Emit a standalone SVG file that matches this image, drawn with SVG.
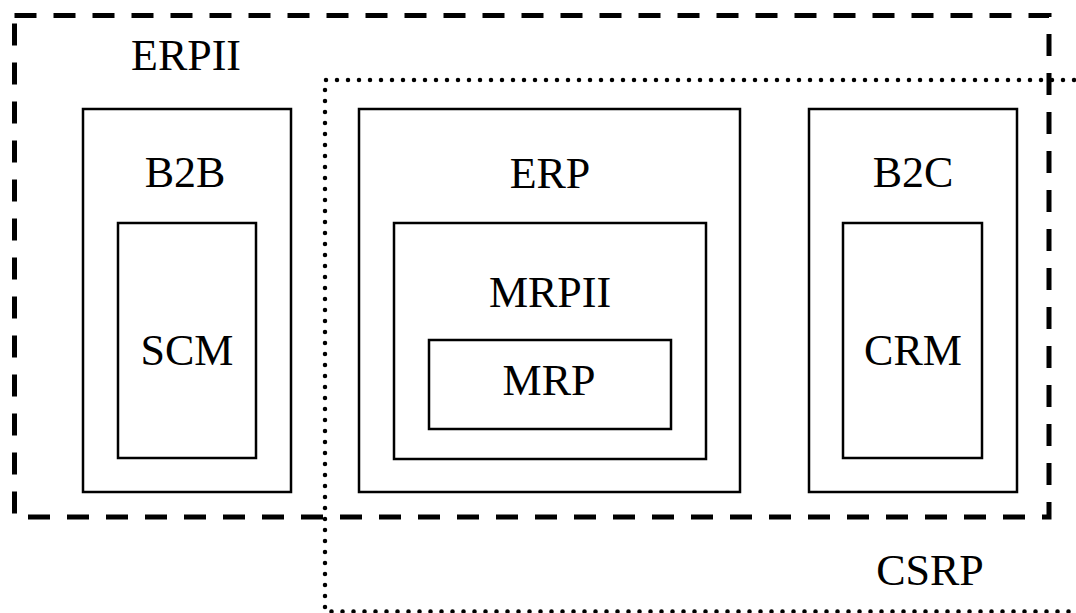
<svg xmlns="http://www.w3.org/2000/svg" width="1076" height="613" viewBox="0 0 1076 613">
<style>
.box{fill:none;stroke:#000;stroke-width:2.5}
.lbl{font-family:"Liberation Serif","Times New Roman",serif;font-size:44px;fill:#000;text-anchor:middle}
.dash{fill:none;stroke:#000;stroke-width:5;stroke-dasharray:22 17}
.dot{fill:none;stroke:#000;stroke-width:4.5;stroke-linecap:round;stroke-dasharray:0.01 10.99}
</style>
<rect width="1076" height="613" fill="#fff"/>
<g id="connectors"></g>
<g id="ERPII">
<rect class="dash" x="14.5" y="15.5" width="1034.5" height="501.5"/>
<text class="lbl" x="186" y="70">ERPII</text>
</g>
<g id="CSRP">
<path class="dot" d="M1085,80 L325,80 L325,611.5 L1085,611.5"/>
<text class="lbl" x="930" y="585">CSRP</text>
</g>
<g id="B2B">
<rect class="box" x="83" y="109" width="208" height="383"/>
<text class="lbl" x="185" y="187">B2B</text>
</g>
<g id="SCM">
<rect class="box" x="118" y="223" width="138" height="235"/>
<text class="lbl" x="187" y="365">SCM</text>
</g>
<g id="ERP">
<rect class="box" x="359" y="109" width="381" height="383"/>
<text class="lbl" x="550" y="188">ERP</text>
</g>
<g id="MRPII">
<rect class="box" x="394" y="223" width="312" height="236"/>
<text class="lbl" x="550" y="307">MRPII</text>
</g>
<g id="MRP">
<rect class="box" x="429" y="340" width="242" height="89"/>
<text class="lbl" x="549" y="395">MRP</text>
</g>
<g id="B2C">
<rect class="box" x="809" y="109" width="208" height="383"/>
<text class="lbl" x="913" y="187">B2C</text>
</g>
<g id="CRM">
<rect class="box" x="843" y="223" width="139" height="235"/>
<text class="lbl" x="913" y="365">CRM</text>
</g>
</svg>
